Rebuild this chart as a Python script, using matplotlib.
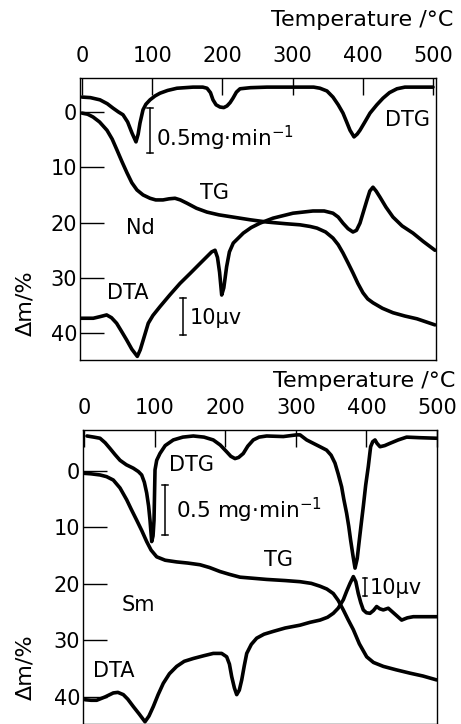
import matplotlib
matplotlib.use('Agg')
import matplotlib.pyplot as plt

plt.rcParams['font.family'] = ['DejaVu Sans']

# ---- Nd panel (y in the dm/% scale) ----
nd_dtg_t = [0, 12, 25.6, 36, 44.2, 52, 58.4, 65, 71.2, 76.9, 80, 82.6, 86.9, 91, 96.9, 104, 111.1,
            122, 135.3, 158.1, 172, 178.1, 183, 186.6, 191, 196.6, 202, 206.6, 211, 215.1, 220,
            225.1, 240, 263.5, 310.5, 330, 339, 349, 357.5, 365, 371.8, 377, 381.8, 387.5, 392,
            396, 403, 410.3, 420, 428.8, 438, 448.7, 460, 471.5, 500]
nd_dtg = [-2.7, -2.6, -2.2, -1.5, -0.7, 0.0, 0.5, 1.8, 3.8, 5.4, 4.0, 2.0, -0.4, -1.4, -2.2, -2.9, -3.4,
          -3.9, -4.3, -4.5, -4.5, -4.3, -3.5, -2.2, -1.3, -0.9, -0.8, -1.1, -1.7, -2.5, -3.6,
          -4.2, -4.4, -4.5, -4.5, -4.5, -4.3, -3.8, -2.7, -1.3, 0.2, 1.8, 3.3, 4.5, 4.0,
          3.3, 1.8, 0.2, -1.3, -2.5, -3.5, -4.2, -4.5, -4.5, -4.5]

nd_tg_t = [0, 8, 15.7, 25, 35.6, 43, 49.9, 57, 64.1, 71, 78.3, 87, 96.9, 105, 115.4, 124, 132.5,
           140, 149.6, 163, 178, 195, 215, 240, 263.5, 290, 310.5, 325, 334.8, 347, 357.5, 365,
           371.8, 379, 386, 393, 400.3, 407, 414.5, 428, 443, 460, 477.2, 502.8]
nd_tg = [0.2, 0.4, 0.9, 1.8, 3.3, 4.9, 6.9, 9.0, 11.0, 12.8, 14.1, 15.0, 15.6, 15.9, 15.9, 15.7, 15.6,
         15.9, 16.5, 17.4, 18.1, 18.6, 19.0, 19.5, 19.9, 20.2, 20.4, 20.7, 21.0, 21.7, 22.8, 24.0,
         25.5, 27.3, 29.1, 31.0, 32.7, 33.8, 34.5, 35.5, 36.3, 36.9, 37.4, 38.5]

nd_dta_t = [-2.8, 16.1, 26, 35.1, 42, 49.3, 56, 63.5, 71, 78.8, 83, 87.3, 94.4, 101, 111.1, 125,
            139.6, 154, 168.1, 184.7, 189.5, 193, 196, 199, 202, 206, 210, 215.5, 229.8, 241,
            253.6, 272.1, 300.6, 329, 345, 357.5, 365, 371.8, 379, 386, 391, 396, 401, 406,
            410, 414.5, 419, 424.5, 433, 443, 456, 471.5, 486, 502.8]
nd_dta = [37.3, 37.3, 37.0, 36.7, 37.2, 38.2, 39.6, 41.2, 42.9, 44.2, 43.0, 41.2, 38.2, 36.8, 35.2, 33.1,
          31.0, 29.2, 27.4, 25.3, 25.0, 26.3, 29.0, 33.1, 31.8, 28.0, 25.3, 23.7, 21.9, 20.9,
          20.1, 19.2, 18.3, 17.9, 17.9, 18.3, 19.0, 20.1, 21.1, 21.7, 21.4, 20.1, 18.0, 15.9,
          14.3, 13.6, 14.3, 15.4, 17.2, 19.0, 20.6, 21.9, 23.4, 25.0]

# ---- Sm panel ----
sm_dtg_t = [4.2, 14, 22.7, 30, 36.8, 44, 51, 60, 69.8, 77, 81.7, 85.5, 88.8, 91.5, 93.5, 95.9, 97.8,
            99.2, 100.6, 103, 107.6, 115, 126.5, 140, 154.8, 170, 183.1, 193, 202.1, 208, 213.9,
            219, 225.6, 232, 239.8, 248, 258.7, 282.3, 301.2, 306, 315.4, 324.8, 334.3, 343.6,
            350, 355.5, 360, 364.9, 368, 372, 375, 377.6, 381, 383.9, 387, 390, 393, 395.6,
            399, 402.7, 406, 409, 412.2, 415, 419.3, 426, 433.4, 445, 457, 475, 499.6]
sm_dtg = [-6.2, -6.0, -5.8, -5.0, -4.0, -2.9, -1.9, -1.1, -0.5, 0.1, 0.7, 2.0, 3.9, 6.2, 8.7, 12.5, 11.5,
          8.7, -0.2, -1.9, -3.1, -4.5, -5.5, -6.0, -6.2, -6.0, -5.5, -4.6, -3.4, -2.6, -2.2,
          -2.4, -3.1, -4.4, -5.5, -6.0, -6.2, -6.1, -6.4, -6.4, -5.5, -4.9, -4.3, -3.7,
          -2.8, -1.4, 0.5, 2.8, 5.0, 7.5, 9.8, 12.2, 15.0, 17.2, 15.5, 12.2, 9.0, 6.3,
          2.5, -0.8, -4.3, -5.2, -5.5, -4.9, -4.3, -4.5, -4.9, -5.5, -6.0, -5.9, -5.8]

sm_tg_t = [-1, 10, 22.7, 32, 41.5, 51, 60.5, 67, 74.6, 82, 88.8, 95, 103, 115, 131.3, 147, 164.3,
           178, 192.6, 206, 221, 240, 258.7, 285, 306, 322, 334.3, 344, 353.1, 360, 367.3, 374,
           381.5, 390, 400.4, 410, 424, 442, 461.8, 480, 499.6]
sm_tg = [0.4, 0.5, 0.7, 1.0, 1.6, 3.0, 5.1, 6.8, 8.7, 10.6, 12.5, 14.0, 15.2, 15.8, 16.1, 16.3, 16.6,
         17.1, 17.8, 18.3, 18.8, 19.0, 19.2, 19.4, 19.6, 19.9, 20.4, 20.9, 21.7, 22.9, 24.6, 26.3,
         28.1, 30.6, 32.9, 33.9, 34.6, 35.2, 35.8, 36.3, 37.0]

sm_dta_t = [1.4, 10, 18, 30, 41.5, 48, 55.7, 62, 69.8, 78, 86.4, 92, 98.2, 105, 112.3, 121, 131.3,
            142, 154.8, 170, 183.1, 195, 202.1, 206, 209.2, 213, 216.3, 220, 223.4, 227, 230.5,
            237, 244.6, 255, 268.1, 285, 306, 320, 334.3, 345, 353.1, 360, 367.3, 372, 376.8,
            381.5, 385, 388.5, 392, 395.6, 400, 405.1, 410, 414.5, 419, 424, 431, 440, 449.9,
            458, 466.4, 480, 499.6]
sm_dta = [40.5, 40.6, 40.6, 40.0, 39.3, 39.2, 39.6, 40.4, 41.7, 43.0, 44.4, 43.4, 41.7, 39.6, 37.6, 35.9, 34.6,
          33.7, 33.2, 32.7, 32.3, 32.3, 32.9, 34.2, 36.4, 38.4, 39.6, 38.8, 37.0, 34.5, 32.3,
          30.7, 29.6, 28.9, 28.4, 27.8, 27.3, 26.8, 26.4, 25.9, 25.2, 24.3, 22.8, 21.3, 19.9,
          18.7, 19.6, 21.7, 23.3, 24.6, 25.1, 25.2, 24.7, 24.0, 24.4, 24.6, 24.3, 25.3, 26.4,
          26.0, 25.8, 25.8, 25.8]

x_ticks = [0, 100, 200, 300, 400, 500]
y_ticks = [0, 10, 20, 30, 40]

W, H = 461, 724
fig = plt.figure(figsize=(W / 100, H / 100), dpi=100)


def make_axes(left, right, top, bottom, xlim, ylim):
    ax = fig.add_axes([left / W, 1 - bottom / H, (right - left) / W, (bottom - top) / H])
    ax.set_xlim(*xlim)
    ax.set_ylim(*ylim)
    ax.xaxis.tick_top()
    ax.set_xticks(x_ticks)
    ax.set_yticks(y_ticks)
    ax.tick_params(axis='x', direction='in', length=12, width=1, pad=9, labelsize=15)
    ax.tick_params(axis='y', direction='in', length=17, width=1, pad=2, labelsize=15)
    for s in ax.spines.values():
        s.set_linewidth(1.0)
    return ax


def curve(ax, t, v):
    ax.plot(t, v, color='black', lw=2.6, solid_joinstyle='round', solid_capstyle='round')


def bar(ax, x, y0, y1, cap):
    ax.plot([x, x], [y0, y1], color='black', lw=1.1)
    ax.plot([x - cap, x + cap], [y0, y0], color='black', lw=1.1)
    ax.plot([x - cap, x + cap], [y1, y1], color='black', lw=1.1)


# top panel: Nd
ax1 = make_axes(80, 436, 78, 360, (-2.85, 504.3), (44.85, -6.15))
curve(ax1, nd_dtg_t, nd_dtg)
curve(ax1, nd_tg_t, nd_tg)
curve(ax1, nd_dta_t, nd_dta)
bar(ax1, 96.9, -0.7, 7.4, 4)
ax1.text(105, 4.7, '0.5mg·min$^{-1}$', fontsize=15.5, va='center')
ax1.text(463, 1.4, 'DTG', fontsize=15, ha='center', va='center')
ax1.text(189, 14.6, 'TG', fontsize=15, ha='center', va='center')
ax1.text(82.6, 21.0, 'Nd', fontsize=15, ha='center', va='center')
ax1.text(65.5, 32.7, 'DTA', fontsize=15, ha='center', va='center')
bar(ax1, 143.9, 33.6, 40.3, 4)
ax1.text(153, 37.3, '10μv', fontsize=15, va='center')
fig.text(453 / W, 1 - 20 / H, 'Temperature /°C', fontsize=16, ha='right', va='center')
fig.text(25 / W, 1 - 303 / H, 'Δm/%', fontsize=16, rotation=90, ha='center', va='center')

# bottom panel: Sm
ax2 = make_axes(83, 437, 430, 724, (-1.4, 500.0), (44.8, -7.26))
curve(ax2, sm_dtg_t, sm_dtg)
curve(ax2, sm_tg_t, sm_tg)
curve(ax2, sm_dta_t, sm_dta)
bar(ax2, 114.7, 2.5, 11.3, 4)
ax2.text(131, 6.9, '0.5 mg·min$^{-1}$', fontsize=15.5, va='center')
ax2.text(152.5, -1.1, 'DTG', fontsize=15, ha='center', va='center')
ax2.text(275.2, 15.8, 'TG', fontsize=15, ha='center', va='center')
ax2.text(77, 23.7, 'Sm', fontsize=15, ha='center', va='center')
ax2.text(41.5, 35.5, 'DTA', fontsize=15, ha='center', va='center')
bar(ax2, 398, 19.0, 22.2, 3)
ax2.text(405, 20.8, '10μv', fontsize=15, va='center')
fig.text(455 / W, 1 - 381 / H, 'Temperature /°C', fontsize=16, ha='right', va='center')
fig.text(25 / W, 1 - 667 / H, 'Δm/%', fontsize=16, rotation=90, ha='center', va='center')

fig.savefig('out.png', dpi=100)
